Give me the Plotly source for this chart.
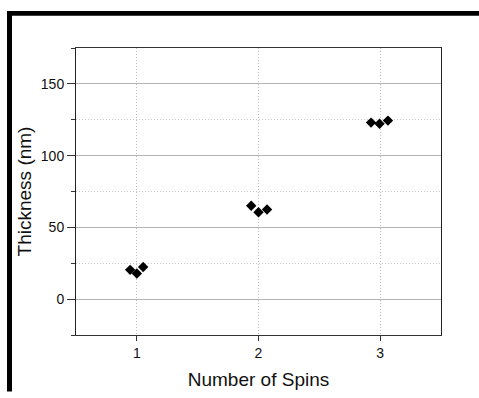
import plotly.graph_objects as go

# Film thickness measured after each number of spin-coating passes
spins_1 = [0.945, 1.0, 1.052]
thickness_1 = [20.4, 17.9, 22.4]
spins_2 = [1.94, 2.0, 2.07]
thickness_2 = [65.1, 60.5, 62.5]
spins_3 = [2.925, 2.995, 3.064]
thickness_3 = [123.0, 122.2, 124.4]

x_ticks = [1, 2, 3]
y_ticks = [0, 50, 100, 150]

W, H = 479, 398
ML, MR, MT, MB = 76, 38, 48, 56
PW, PH = W - ML - MR, H - MT - MB


def px_x(px):
    return (px - ML) / PW


def px_y(py):
    return (H - MB - py) / PH


fig = go.Figure()
for xs, ys in [(spins_1, thickness_1), (spins_2, thickness_2), (spins_3, thickness_3)]:
    fig.add_trace(go.Scatter(
        x=xs, y=ys, mode="markers",
        marker=dict(symbol="diamond", size=8, color="black", line=dict(width=0)),
        showlegend=False, hoverinfo="x+y",
    ))

font_family = "Liberation Sans, Arial, sans-serif"

fig.update_layout(
    width=W, height=H,
    margin=dict(l=ML, r=MR, t=MT, b=MB),
    paper_bgcolor="white", plot_bgcolor="white",
    font=dict(family=font_family, color="#111", size=14),
    xaxis=dict(
        range=[0.5, 3.5], tickvals=x_ticks, ticktext=[str(v) for v in x_ticks],
        showgrid=True, gridcolor="#bdbdbd", griddash="1px,2px", gridwidth=1,
        zeroline=False, showline=True, linecolor="#333", linewidth=1, mirror=True,
        ticks="outside", ticklen=5, tickcolor="#333",
        tickfont=dict(size=14),
        title=dict(text="Number of Spins", font=dict(size=19), standoff=12),
    ),
    yaxis=dict(
        range=[-25, 175], tickvals=y_ticks, ticktext=[str(v) for v in y_ticks],
        showgrid=True, gridcolor="#b4b4b4", gridwidth=1,
        zeroline=False, showline=True, linecolor="#222", linewidth=1, mirror=True,
        ticks="outside", ticklen=8, tickcolor="#333",
        tickfont=dict(size=14),
        minor=dict(tick0=0, dtick=25, showgrid=True, gridcolor="#c4c4c4",
                   griddash="1px,2px", gridwidth=1, ticks="outside", ticklen=4,
                   tickcolor="#333"),
        title=dict(text="Thickness (nm)", font=dict(size=19), standoff=4),
    ),
    shapes=[
        # heavy frame along the top and left of the figure
        dict(type="rect", xref="paper", yref="paper",
             x0=px_x(7), x1=px_x(480), y0=px_y(15), y1=px_y(10),
             fillcolor="black", line=dict(width=0), layer="above"),
        dict(type="rect", xref="paper", yref="paper",
             x0=px_x(7), x1=px_x(12), y0=px_y(400), y1=px_y(10),
             fillcolor="black", line=dict(width=0), layer="above"),
    ],
)

fig.write_html("out.html")
